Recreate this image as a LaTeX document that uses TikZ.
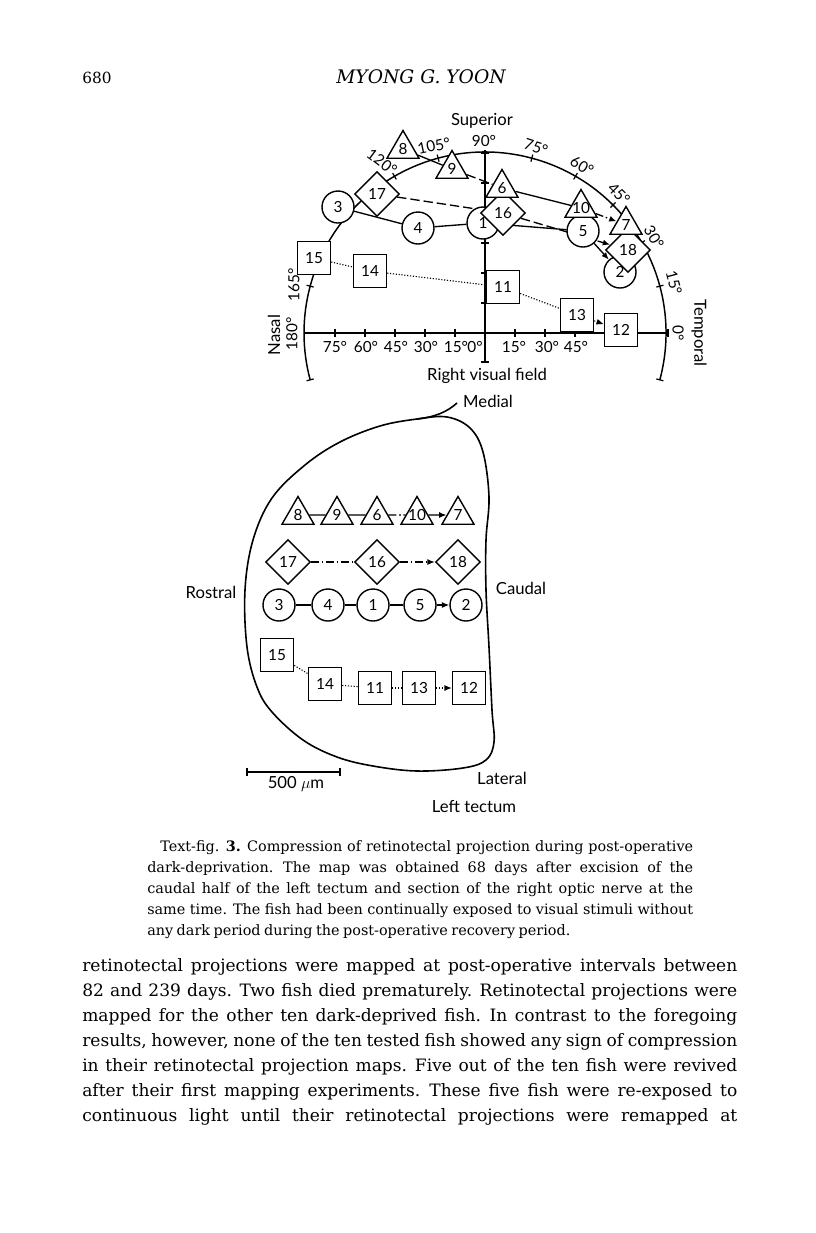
\documentclass[tikz,border=0pt]{standalone}
\usepackage{fontspec}
\newfontfamily\lab{Lato}
\newfontfamily\txt{DejaVu Serif}
\usetikzlibrary{shapes.geometric,arrows.meta}
\pgfdeclarelayer{paper}
\pgfdeclarelayer{bg}
\pgfsetlayers{paper,bg,main}
\newcommand{\bodyline}[1]{\txt\fontsize{12.8}{18}\selectfont\spaceskip=0.25em plus 1em minus 0.08em\xspaceskip=0.32em plus 1em minus 0.08em\hbox to 491.25pt{#1}}
\newcommand{\capline}[2]{\txt\fontsize{10.8}{15}\selectfont\spaceskip=0.2em plus 1em minus 0.06em\xspaceskip=0.3em plus 1em minus 0.06em\hbox to #1{#2}}
\begin{document}
\begin{tikzpicture}[x=0.75pt,y=-0.75pt,
  every node/.style={inner sep=0pt},
  shp/.style={draw,fill=white,line width=1.05pt,inner sep=0pt,font=\lab\fontsize{11.5}{12}\selectfont},
  circ/.style={shp,circle,minimum size=24pt},
  sq/.style={shp,rectangle,minimum size=24.75pt},
  dia/.style={shp,diamond,minimum size=33.75pt},
  tri/.style={shp,regular polygon,regular polygon sides=3,minimum size=27.75pt},
  lbl/.style={font=\lab\fontsize{12.5}{13}\selectfont},
  deg/.style={font=\lab\fontsize{11.5}{12}\selectfont},
  con/.style={line width=1pt},
  arr/.style={-{Latex[length=5.5pt,width=4.5pt]}},
  ldash/.style={dash pattern=on 7pt off 3pt},
  ddot/.style={line width=0.85pt,dash pattern=on 0.85pt off 1.3pt},
  dashdot/.style={dash pattern=on 6pt off 2pt on 1.2pt off 2pt},
  tick/.style={line width=0.9pt}
]
\begin{pgfonlayer}{paper}
\fill[white] (0,0) rectangle (816,1233);
\end{pgfonlayer}
\useasboundingbox (0,0) rectangle (816,1233);

% ---------------- header ----------------
\node[anchor=base west] (pg) at (82,83) {\txt\fontsize{11.5}{16}\selectfont 680};
\node[anchor=base] (au) at (421,83) {\txt\fontsize{14}{16}\selectfont\itshape MYONG G. YOON};

% ---------------- visual field nodes ----------------
\coordinate (C) at (485,333);
\node[circ] (f3) at (338,207) {3};
\node[circ] (f4) at (418,228) {4};
\node[circ] (f1) at (483,223) {1};
\node[circ] (f5) at (583,231) {5};
\node[circ] (f2) at (620,272) {2};
\node[dia] (f17) at (377,194) {17};
\node[dia] (f16) at (503,213) {16};
\node[dia] (f18) at (628,250) {18};
\node[tri] (f8) at (403,149) {\makebox[0pt]{8}};
\node[tri] (f9) at (452,169) {\makebox[0pt]{9}};
\node[tri] (f6) at (502,188) {\makebox[0pt]{6}};
\node[tri] (f10) at (581,208) {\makebox[0pt]{10}};
\node[tri] (f7) at (626,225) {\makebox[0pt]{7}};
\node[sq] (f15) at (314,258) {15};
\node[sq] (f14) at (370,271) {14};
\node[sq] (f11) at (503,287) {11};
\node[sq] (f13) at (577,315) {13};
\node[sq] (f12) at (621,330) {12};

% labels of visual field
\node[lbl] (sup) at (482,121) {Superior};
\node[lbl] (rvf) at (487,376) {Right visual field};
\node[lbl,rotate=-90] (tem) at (699,333) {Temporal};
\node[lbl,rotate=90] (nas) at (274,335) {Nasal};
\node[deg] (a90) at (484,141) {90°};
\node[deg,rotate=-18] (a75) at (536,147) {75°};
\node[deg,rotate=-30] (a60) at (582,166) {60°};
\node[deg,rotate=-45] (a45) at (619,194) {45°};
\node[deg,rotate=-60] (a30) at (654,237) {30°};
\node[deg,rotate=-75] (a15) at (674,283) {15°};
\node[deg,rotate=-90] (a0) at (678,333) {0°};
\node[deg,rotate=12] (a105) at (434,146) {105°};
\node[deg,rotate=-37] (a120) at (382,162) {120°};
\node[deg,rotate=90] (a165) at (294,285) {165°};
\node[deg,rotate=90] (a180) at (292,334) {180°};
\node[deg] (h75) at (335,347) {75°};
\node[deg] (h60) at (366,347) {60°};
\node[deg] (h45) at (396,347) {45°};
\node[deg] (h30) at (426,347) {30°};
\node[deg] (h15) at (456,347) {15°};
\node[deg] (h0) at (475,347) {0°};
\node[deg] (r15) at (514,347) {15°};
\node[deg] (r30) at (547,347) {30°};
\node[deg] (r45) at (576,347) {45°};

% ---------------- tectum nodes ----------------
\node[tri] (g8) at (298,515) {\makebox[0pt]{8}};
\node[tri] (g9) at (337,515) {\makebox[0pt]{9}};
\node[tri] (g6) at (377,515) {\makebox[0pt]{6}};
\node[tri] (g10) at (417,515) {\makebox[0pt]{10}};
\node[tri] (g7) at (458,515) {\makebox[0pt]{7}};
\node[dia] (g17) at (288,562) {17};
\node[dia] (g16) at (377,562) {16};
\node[dia] (g18) at (458,562) {18};
\node[circ] (g3) at (279,605) {3};
\node[circ] (g4) at (328,605) {4};
\node[circ] (g1) at (373,605) {1};
\node[circ] (g5) at (420,605) {5};
\node[circ] (g2) at (466,605) {2};
\node[sq] (g15) at (277,655) {15};
\node[sq] (g14) at (325,684) {14};
\node[sq] (g11) at (375,688) {11};
\node[sq] (g13) at (419,688) {13};
\node[sq] (g12) at (469,688) {12};

\node[lbl] (med) at (488,401) {Medial};
\node[lbl] (ros) at (211,592) {Rostral};
\node[lbl] (cau) at (521,588) {Caudal};
\node[lbl] (lat) at (502,778) {Lateral};
\node[lbl] (lt) at (474,806) {Left tectum};
\node[lbl] (sb) at (296,784) {500 $\mu$m};

% ---------------- caption ----------------
\node[anchor=base west] (c1) at (160,851) {\capline{399.75pt}{Text-fig. \textbf{3.} Compression of retinotectal projection during post-operative}};
\node[anchor=base west] (c2) at (147,872) {\capline{409.5pt}{dark-deprivation. The map was obtained 68 days after excision of the}};
\node[anchor=base west] (c3) at (147,893) {\capline{409.5pt}{caudal half of the left tectum and section of the right optic nerve at the}};
\node[anchor=base west] (c4) at (147,914) {\capline{409.5pt}{same time. The fish had been continually exposed to visual stimuli without}};
\node[anchor=base west] (c5) at (147,935) {\txt\fontsize{10.8}{15}\selectfont\spaceskip=0.24em\xspaceskip=0.34em any dark period during the post-operative recovery period.};

% ---------------- body text ----------------
\node[anchor=base west] (b1) at (82,971) {\bodyline{retinotectal projections were mapped at post-operative intervals between}};
\node[anchor=base west] (b2) at (82,996) {\bodyline{82 and 239 days. Two fish died prematurely. Retinotectal projections were}};
\node[anchor=base west] (b3) at (82,1021) {\bodyline{mapped for the other ten dark-deprived fish. In contrast to the foregoing}};
\node[anchor=base west] (b4) at (82,1046) {\bodyline{results, however, none of the ten tested fish showed any sign of compression}};
\node[anchor=base west] (b5) at (82,1071) {\bodyline{in their retinotectal projection maps. Five out of the ten fish were revived}};
\node[anchor=base west] (b6) at (82,1096) {\bodyline{after their first mapping experiments. These five fish were re-exposed to}};
\node[anchor=base west] (b7) at (82,1121) {\bodyline{continuous light until their retinotectal projections were remapped at}};

% ---------------- background layer: axes, arc, connectors ----------------
\begin{pgfonlayer}{bg}
  % arc
  \draw[line width=1.1pt] ([shift={(485,333)}]-15:135.75pt) arc[start angle=-15,end angle=195,radius=135.75pt];
  \foreach \a in {-15,15,30,45,60,75,105,120,165,195}
    \draw[tick] ([shift={(485,333)}]\a:133pt) -- ([shift={(485,333)}]\a:138.5pt);
  % axes
  \draw[line width=1pt] (304,333) -- (668,333);
  \draw[line width=1pt] (485,150) -- (485,362);
  \foreach \x in {335,365,395,425,455,515,545,575,605,668}
    \draw[tick] (\x,329) -- (\x,337);
  \foreach \y in {153,183,213,243,273,303,362}
    \draw[tick] (481,\y) -- (489,\y);
  % field connectors
  \draw[con] (f8) -- (f9);
  \draw[con,ldash] (f9) -- (f6);
  \draw[con] (f6) -- (f10);
  \draw[con,dashdot,arr] (f10) -- (f7);
  \draw[con,ldash] (f17) -- (f16);
  \draw[con,ldash,arr] (f16) -- (f18);
  \draw[con] (f3) -- (f4);
  \draw[con] (f4) -- (f1);
  \draw[con] (f1) -- (f5);
  \draw[con,arr] (f5) -- (f2);
  \draw[ddot] (f15) -- (f14);
  \draw[ddot] (f14) -- (f11);
  \draw[ddot] (f11) -- (f13);
  \draw[ddot,arr] (f13) -- (f12);

  % tectum outline
  \draw[line width=1.2pt] plot[smooth cycle,tension=0.6] coordinates {
    (417,419) (447,417) (470,428) (483,452) (489,497) (486,540) (486,590)
    (489,647) (492,710) (494,742) (486,760) (463,768) (417,771) (373,766)
    (337,757) (303,740) (272,712) (257,687) (247,647) (245,590) (253,540)
    (272,498) (305,465) (340,442) (380,426)};
  \draw[line width=1.2pt] (417,419) .. controls (435,417) and (447,412) .. (457,403);
  % scale bar
  \draw[line width=1pt] (247,772) -- (340,772);
  \draw[tick] (247,768) -- (247,776);
  \draw[tick] (340,768) -- (340,776);

  % tectum connectors
  \draw[con] (g8) -- (g9);
  \draw[con] (g9) -- (g6);
  \draw[con,dashdot] (g6) -- (g10);
  \draw[con,arr] (g10) -- (g7);
  \draw[con,dashdot] (g17) -- (g16);
  \draw[con,dashdot,arr] (g16) -- (g18);
  \draw[con] (g3) -- (g4);
  \draw[con] (g4) -- (g1);
  \draw[con] (g1) -- (g5);
  \draw[con,arr] (g5) -- (g2);
  \draw[ddot] (g15) -- (g14);
  \draw[ddot] (g14) -- (g11);
  \draw[ddot] (g11) -- (g13);
  \draw[ddot,arr] (g13) -- (g12);
\end{pgfonlayer}
\end{tikzpicture}
\end{document}
